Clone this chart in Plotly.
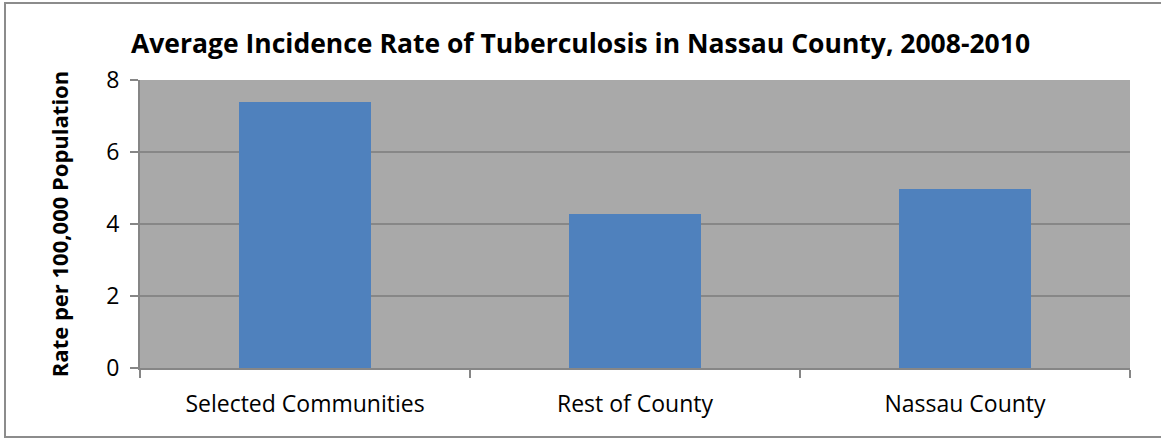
import plotly.graph_objects as go

categories = ["Selected Communities", "Rest of County", "Nassau County"]
rates = [7.39, 4.28, 4.97]
y_ticks = [0, 2, 4, 6, 8]

W, H = 1161, 438
L, R, T, B = 140, 31, 80, 70

fig = go.Figure(go.Bar(
    x=categories, y=rates,
    marker=dict(color="#4F81BD", line=dict(width=0)),
))

pw = W - L - R
ph = H - T - B
fig.update_layout(
    width=W, height=H,
    margin=dict(l=L, r=R, t=T, b=B),
    paper_bgcolor="white",
    plot_bgcolor="#a9a9a9",
    bargap=0.6,
    showlegend=False,
    font=dict(family="Open Sans", color="black"),
    title=dict(
        text="<b>Average Incidence Rate of Tuberculosis in Nassau County, 2008-2010</b>",
        x=0.5, xanchor="center", y=1 - 44 / H, yanchor="middle",
        font=dict(size=26.5, family="Open Sans", color="black"),
    ),
    xaxis=dict(
        type="category",
        showline=True, linecolor="#868686", linewidth=2,
        ticks="outside", tickson="boundaries", ticklen=8, tickcolor="#868686", tickwidth=2,
        tickfont=dict(size=23), showgrid=False, ticklabelstandoff=14,
    ),
    yaxis=dict(
        range=[0, 8], tickvals=y_ticks,
        showline=True, linecolor="#868686", linewidth=2,
        ticks="outside", ticklen=8, tickcolor="#868686", tickwidth=2,
        showgrid=True, gridcolor="#878787", gridwidth=2,
        tickfont=dict(size=23), zeroline=False, ticklabelstandoff=6,
        title=dict(text="<b>Rate per 100,000 Population</b>", font=dict(size=22), standoff=32),
    ),
    shapes=[dict(
        type="rect", xref="paper", yref="paper",
        x0=(5 - L) / pw, x1=(1165 - L) / pw,
        y0=-(437 - T - ph) / ph, y1=1 + (T - 3) / ph,
        line=dict(color="#8c8c8c", width=2), fillcolor="rgba(0,0,0,0)", layer="below",
    )],
)

fig.write_html("out.html", config={"displayModeBar": False},
               post_script="document.body.style.margin='0';")
